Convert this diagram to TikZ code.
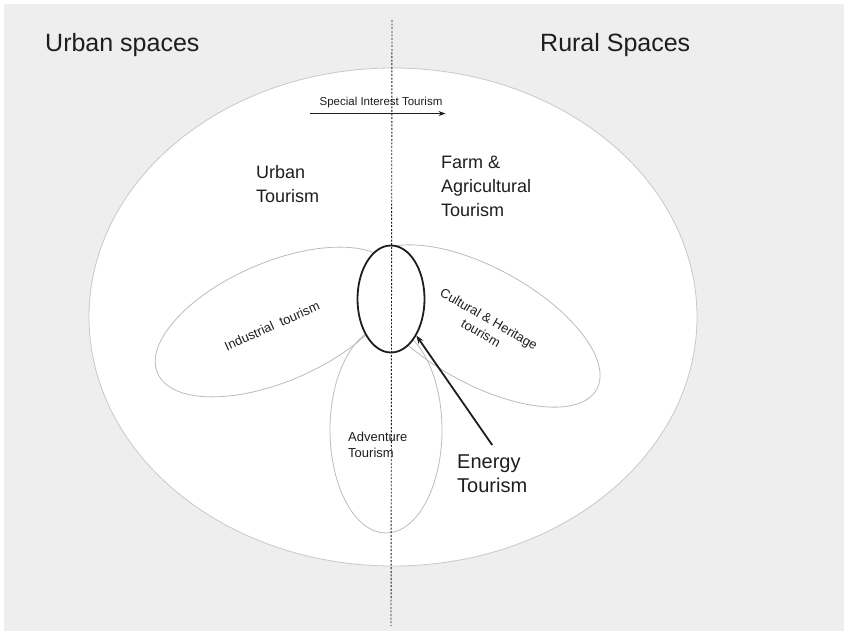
\documentclass[tikz,border=0pt]{standalone}
\usepackage{fontspec}
\setmainfont{Liberation Sans}
\usepackage{xcolor}
\definecolor{PageGray}{RGB}{238,238,238}
\definecolor{EdgeGray}{RGB}{200,200,200}
\definecolor{PetalGray}{RGB}{188,188,188}
\definecolor{InkGray}{RGB}{30,30,30}
\usepackage{tikz}
\usetikzlibrary{shapes.geometric, arrows.meta, positioning}
\tikzset{
  % Outer region and the petals
  region/.style={ellipse, draw=EdgeGray, fill=white, line width=0.8pt, inner sep=0pt},
  petal/.style={ellipse, draw=PetalGray, line width=0.8pt, inner sep=0pt},
  core/.style={ellipse, draw=InkGray, fill=white, line width=1.8pt, inner sep=0pt},
  % Texts
  bigtitle/.style={font=\fontsize{25}{30}\selectfont, text=InkGray, anchor=west, inner sep=0pt},
  zonelabel/.style={font=\fontsize{18}{24}\selectfont, text=InkGray, align=left,
    anchor=north west, inner sep=0pt},
  petallabel/.style={font=\fontsize{13}{16}\selectfont, text=InkGray, align=center, inner sep=0pt},
  % Lines
  divider/.style={draw=InkGray, line width=0.9pt, dash pattern=on 2pt off 1.6pt},
  arr/.style={-{Stealth[length=7pt,width=5pt]}, line width=0.9pt, InkGray},
  parr/.style={-{Stealth[length=8pt,width=6pt]}, line width=1.8pt, InkGray},
}

\begin{document}
\begin{tikzpicture}[x=1pt, y=-1pt]

  \useasboundingbox (0,0) rectangle (844,631);
  \fill[white] (0,0) rectangle (844,631);
  \fill[PageGray] (4,4) rectangle (844,631);

  \node[bigtitle] (urban) at (45,45) {Urban spaces};
  \node[bigtitle] (rural) at (540,45) {Rural Spaces};

  \node[region, minimum width=608pt, minimum height=498pt] (whole) at (393,317) {};

  %% petals
  \node[petal, minimum width=258pt, minimum height=119pt, rotate=23.4] (industrial) at (276,322) {};
  \node[petal, minimum width=262pt, minimum height=116pt, rotate=-28.9] (cultural) at (482,326) {};
  \node[petal, minimum width=112pt, minimum height=206pt] (adventure) at (386,430) {};

  \node[core, minimum width=67pt, minimum height=107pt] (bold) at (391,299) {};

  %% labels
  \node[font=\fontsize{11.5}{14}\selectfont, text=InkGray, inner sep=0pt] (sit) at (381,103)
    {Special Interest Tourism};
  \node[zonelabel] (urbtour) at (256,165) {Urban\\Tourism};
  \node[zonelabel] (farm) at (441,156) {Farm \&\\Agricultural\\Tourism};
  \node[petallabel, rotate=24.1] (indlab) at (272,326) {Industrial\ \ tourism};
  \node[petallabel, rotate=-30] (cultlab) at (485,326) {Cultural \& Heritage\\tourism};
  \node[petallabel, align=left, anchor=north west] (advlab) at (348,432) {Adventure\\Tourism};
  \node[zonelabel, font=\fontsize{20}{24}\selectfont] (energy) at (457,455) {Energy\\Tourism};

  %% divider and arrows
  \coordinate (divtop) at (392,20);
  \coordinate (divbot) at (391,626);
  \draw[divider] (divtop) -- (divbot);
  \draw[arr] ([xshift=-9pt,yshift=-5pt]sit.south west) -- ([xshift=3pt,yshift=-5pt]sit.south east);
  \draw[parr] ([yshift=10pt]energy.north) -- (bold);

\end{tikzpicture}
\end{document}
